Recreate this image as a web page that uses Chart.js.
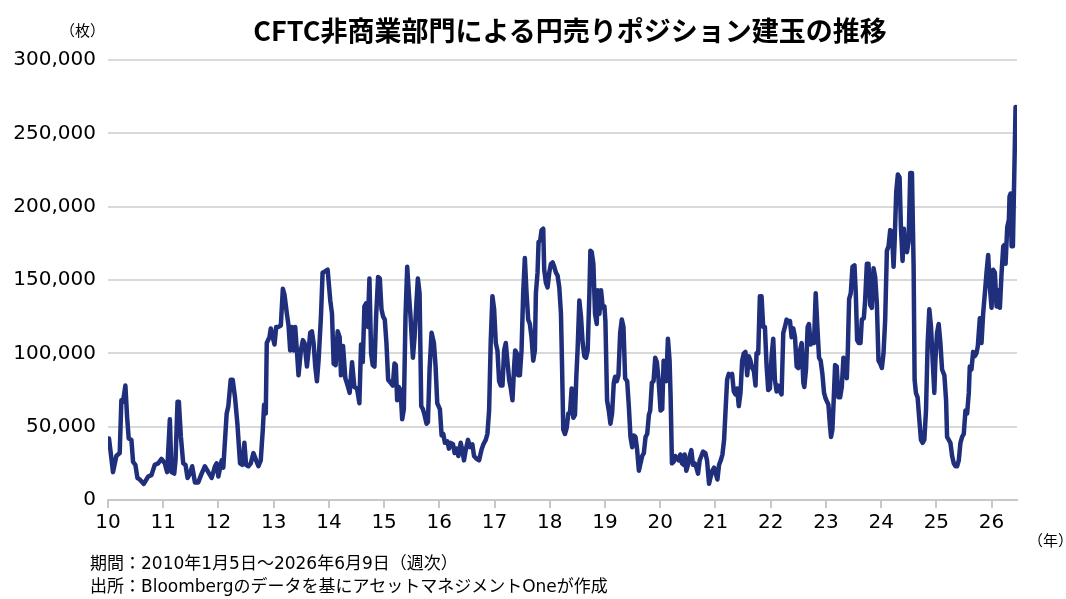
<!DOCTYPE html>
<html lang="ja">
<head>
<meta charset="utf-8">
<script src="https://cdn.jsdelivr.net/npm/chart.js@4.4.1/dist/chart.umd.min.js"></script>
<style>
  html, body { margin:0; padding:0; background:#fff; }
  body { width:1066px; height:599px; position:relative; overflow:hidden;
         font-family:"DejaVu Sans","Noto Sans CJK JP",sans-serif; color:#000; }
  #c { position:absolute; left:0; top:0; }
  .t { position:absolute; white-space:nowrap; }
  #title { left:0; width:1140px; top:10px; text-align:center; font-size:27px; font-weight:700;
           font-family:"Noto Sans CJK JP",sans-serif; }
  #unit  { left:60px; top:19px; font-size:15px; font-family:"Noto Sans CJK JP",sans-serif; }
  #yr    { left:1028px; top:529px; font-size:15px; font-family:"Noto Sans CJK JP",sans-serif; }
  #foot  { left:90px; top:552px; font-size:17px; line-height:23px; }
</style>
</head>
<body>
<canvas id="c" width="1066" height="599"></canvas>
<div class="t" id="title">CFTC非商業部門による円売りポジション建玉の推移</div>
<div class="t" id="unit">（枚）</div>
<div class="t" id="yr">（年）</div>
<div class="t" id="foot">期間：2010年1月5日～2026年6月9日（週次）<br>出所：Bloombergのデータを基にアセットマネジメントOneが作成</div>
<script>
/* 週次データ: 位置は年の小数、値は枚 */
const weekPos = [
  2010.018,2010.091,2010.151,2010.212,2010.242,2010.272,2010.315,2010.345,2010.375,2010.424,2010.454,2010.496,2010.533,2010.575,2010.648,2010.726,2010.787,2010.847,2010.908,2010.969,
  2011.029,2011.071,2011.120,2011.150,2011.199,2011.223,2011.259,2011.283,2011.320,2011.362,2011.404,2011.441,2011.483,2011.525,2011.574,2011.634,2011.695,2011.755,2011.816,2011.877,2011.937,2011.967,2011.998,
  2012.058,2012.088,2012.149,2012.179,2012.222,2012.258,2012.300,2012.343,2012.391,2012.433,2012.470,2012.500,2012.542,2012.585,2012.633,2012.682,2012.724,2012.766,2012.803,2012.827,2012.857,2012.875,2012.924,2012.948,2012.984,
  2013.015,2013.045,2013.087,2013.130,2013.166,2013.196,2013.239,2013.269,2013.299,2013.329,2013.360,2013.390,2013.420,2013.450,2013.493,2013.529,2013.559,2013.602,2013.632,2013.662,2013.692,2013.723,2013.753,2013.783,2013.813,2013.856,2013.886,2013.935,2013.977,
  2014.025,2014.056,2014.086,2014.122,2014.159,2014.195,2014.219,2014.256,2014.298,2014.340,2014.376,2014.419,2014.461,2014.510,2014.552,2014.582,2014.613,2014.643,2014.673,2014.704,2014.734,2014.764,2014.794,2014.825,2014.855,2014.891,2014.922,2014.952,2014.982,
  2015.012,2015.042,2015.073,2015.115,2015.157,2015.188,2015.212,2015.236,2015.266,2015.297,2015.327,2015.357,2015.387,2015.418,2015.448,2015.478,2015.521,2015.551,2015.587,2015.611,2015.642,2015.672,2015.702,2015.732,2015.768,2015.793,2015.823,2015.859,2015.902,2015.932,2015.962,
  2016.010,2016.041,2016.071,2016.101,2016.144,2016.174,2016.204,2016.247,2016.277,2016.313,2016.344,2016.386,2016.416,2016.446,2016.477,2016.519,2016.556,2016.598,2016.628,2016.677,2016.719,2016.761,2016.798,2016.840,2016.870,2016.901,2016.931,2016.961,2016.992,
  2017.022,2017.052,2017.082,2017.113,2017.143,2017.173,2017.203,2017.234,2017.264,2017.294,2017.324,2017.354,2017.373,2017.403,2017.427,2017.458,2017.488,2017.518,2017.548,2017.579,2017.609,2017.639,2017.669,2017.700,2017.730,2017.748,2017.778,2017.797,2017.827,2017.851,2017.881,2017.899,2017.930,2017.960,2017.990,
  2018.020,2018.051,2018.081,2018.111,2018.141,2018.172,2018.202,2018.220,2018.244,2018.274,2018.305,2018.335,2018.365,2018.395,2018.426,2018.456,2018.480,2018.504,2018.535,2018.565,2018.595,2018.626,2018.656,2018.686,2018.717,2018.735,2018.759,2018.789,2018.819,2018.850,2018.868,2018.898,2018.928,2018.959,2018.989,
  2019.007,2019.037,2019.068,2019.098,2019.128,2019.159,2019.183,2019.213,2019.243,2019.274,2019.304,2019.334,2019.364,2019.401,2019.431,2019.461,2019.492,2019.522,2019.552,2019.582,2019.613,2019.643,2019.673,2019.703,2019.734,2019.764,2019.794,2019.818,2019.849,2019.879,2019.909,2019.939,2019.970,
  2020.006,2020.036,2020.061,2020.091,2020.109,2020.139,2020.169,2020.188,2020.212,2020.242,2020.272,2020.303,2020.333,2020.363,2020.394,2020.424,2020.442,2020.472,2020.502,2020.533,2020.563,2020.593,2020.624,2020.654,2020.684,2020.714,2020.745,2020.775,2020.817,2020.847,2020.884,2020.914,2020.944,2020.975,
  2021.005,2021.035,2021.065,2021.096,2021.126,2021.156,2021.180,2021.211,2021.241,2021.271,2021.301,2021.332,2021.362,2021.392,2021.422,2021.453,2021.483,2021.513,2021.543,2021.574,2021.604,2021.634,2021.665,2021.695,2021.725,2021.743,2021.774,2021.804,2021.834,2021.864,2021.895,2021.925,2021.955,2021.985,
  2022.016,2022.046,2022.076,2022.107,2022.137,2022.167,2022.197,2022.228,2022.258,2022.288,2022.318,2022.349,2022.379,2022.409,2022.440,2022.470,2022.500,2022.530,2022.561,2022.591,2022.609,2022.639,2022.669,2022.693,2022.724,2022.754,2022.784,2022.815,2022.845,2022.875,2022.905,2022.936,2022.966,2022.996,
  2023.045,2023.075,2023.093,2023.117,2023.136,2023.166,2023.196,2023.226,2023.257,2023.287,2023.317,2023.347,2023.378,2023.396,2023.420,2023.450,2023.481,2023.517,2023.541,2023.565,2023.596,2023.626,2023.650,2023.686,2023.710,2023.741,2023.771,2023.801,2023.831,2023.862,2023.892,2023.922,2023.952,2023.983,
  2024.013,2024.043,2024.073,2024.104,2024.134,2024.164,2024.194,2024.225,2024.243,2024.273,2024.303,2024.334,2024.358,2024.388,2024.412,2024.437,2024.467,2024.497,2024.527,2024.558,2024.588,2024.606,2024.630,2024.660,2024.691,2024.721,2024.751,2024.782,2024.812,2024.842,2024.872,2024.903,2024.933,2024.963,2024.982,
  2025.012,2025.042,2025.073,2025.103,2025.145,2025.176,2025.194,2025.224,2025.254,2025.285,2025.315,2025.345,2025.375,2025.406,2025.436,2025.466,2025.496,2025.527,2025.557,2025.587,2025.605,2025.635,2025.666,2025.696,2025.726,2025.751,2025.787,2025.817,2025.847,2025.878,2025.908,2025.938,2025.969,2025.999,
  2026.029,2026.059,2026.090,2026.120,2026.150,2026.181,2026.211,2026.235,2026.253,2026.283,2026.313,2026.325,2026.344,2026.362,2026.386,2026.404,2026.434
];
const shortPos = [
  42000,19000,30000,32000,68000,67000,78000,57000,42000,41000,26000,24000,15000,14000,11000,16000,17000,24000,25000,28000,
  25000,19000,55000,19000,18000,27000,67000,67000,43000,25000,24000,15000,18000,23000,12000,12000,18000,23000,19000,15000,23000,25000,16000,
  27000,22000,59000,64000,82000,82000,70000,52000,25000,24000,39000,24000,23000,25000,32000,27000,23000,27000,48000,65000,59000,107000,111000,117000,111000,
  106000,118000,118000,119000,144000,140000,127000,119000,102000,118000,102000,118000,102000,85000,102000,109000,107000,91000,102000,114000,115000,107000,91000,81000,95000,125000,155000,156000,157000,
  136000,127000,93000,92000,115000,111000,85000,105000,83000,78000,73000,94000,77000,76000,66000,106000,94000,132000,134000,118000,151000,100000,92000,91000,125000,152000,151000,130000,125000,
  123000,107000,82000,80000,78000,93000,92000,68000,77000,75000,55000,62000,125000,159000,141000,125000,97000,111000,136000,151000,141000,64000,62000,58000,52000,53000,89000,114000,107000,91000,66000,
  62000,44000,45000,39000,40000,35000,39000,38000,32000,35000,30000,39000,34000,27000,34000,41000,36000,38000,30000,28000,27000,34000,38000,41000,45000,61000,109000,139000,130000,
  107000,102000,81000,78000,78000,102000,107000,94000,82000,76000,68000,91000,102000,100000,85000,85000,102000,141000,165000,141000,123000,120000,111000,95000,102000,141000,155000,176000,177000,184000,185000,157000,148000,145000,155000,
  161000,162000,159000,155000,153000,145000,127000,95000,48000,45000,49000,59000,59000,76000,56000,58000,84000,103000,136000,125000,107000,98000,97000,102000,141000,170000,169000,161000,127000,120000,143000,127000,143000,131000,132000,
  122000,68000,61000,52000,59000,80000,84000,81000,85000,114000,123000,118000,83000,81000,64000,43000,36000,44000,43000,34000,20000,25000,30000,32000,43000,45000,58000,61000,80000,81000,97000,94000,82000,
  61000,62000,95000,94000,81000,110000,95000,70000,25000,26000,30000,28000,27000,31000,25000,24000,31000,20000,24000,30000,34000,24000,25000,22000,18000,27000,30000,33000,32000,27000,11000,16000,20000,22000,
  18000,14000,24000,27000,31000,41000,59000,82000,86000,85000,86000,74000,72000,76000,64000,73000,95000,100000,101000,85000,98000,95000,90000,88000,78000,100000,100000,139000,139000,118000,118000,92000,75000,76000,
  98000,110000,82000,74000,78000,74000,72000,114000,118000,123000,122000,122000,111000,117000,111000,91000,90000,102000,107000,80000,77000,89000,118000,120000,106000,111000,107000,141000,118000,97000,95000,86000,73000,69000,
  65000,50000,43000,48000,64000,92000,91000,70000,70000,77000,97000,95000,83000,101000,137000,141000,159000,160000,141000,109000,107000,107000,123000,124000,136000,161000,161000,133000,131000,158000,152000,134000,95000,93000,
  90000,100000,123000,170000,173000,184000,183000,159000,175000,210000,222000,220000,186000,163000,185000,170000,169000,176000,223000,223000,159000,82000,73000,70000,55000,41000,39000,41000,61000,107000,130000,118000,95000,73000,95000,
  114000,120000,107000,89000,85000,68000,43000,41000,39000,30000,25000,23000,23000,27000,39000,43000,45000,61000,59000,73000,91000,89000,101000,98000,100000,105000,124000,107000,127000,141000,155000,167000,145000,131000,
  157000,155000,132000,143000,131000,155000,173000,174000,161000,186000,191000,207000,209000,173000,173000,209000,268000
];
const yearLabels = ['10','11','12','13','14','15','16','17','18','19','20','21','22','23','24','25','26'];
const yTicks = [0, 50000, 100000, 150000, 200000, 250000, 300000];

const FONT = '"DejaVu Sans","Noto Sans CJK JP",sans-serif';
const nf = new Intl.NumberFormat('en-US');

const points = weekPos.map((x, i) => ({ x, y: shortPos[i] }));

new Chart(document.getElementById('c'), {
  type: 'line',
  data: { datasets: [{
    data: points,
    borderColor: '#1f2f7c', borderWidth: 4.5, borderJoinStyle: 'round', borderCapStyle: 'round',
    pointRadius: 0, tension: 0, fill: false
  }]},
  options: {
    responsive: false, animation: false,
    layout: { padding: { top: 60, right: 49, bottom: 0, left: 0 } },
    plugins: { legend: { display: false }, tooltip: { enabled: false } },
    scales: {
      x: {
        type: 'linear', min: 2010, max: 2026.46,
        afterFit: s => { s.height = 99; },
        afterBuildTicks: s => { s.ticks = yearLabels.map((_, i) => ({ value: 2010 + i })); },
        ticks: { autoSkip: false, maxRotation: 0, padding: 3, color: '#000',
                 font: { family: FONT, size: 20 },
                 callback: v => yearLabels[Math.round(v) - 2010] },
        grid: { drawOnChartArea: false, drawTicks: true, tickLength: 8, color: '#c8c8c8', lineWidth: 2 },
        border: { color: '#c8c8c8', width: 2 }
      },
      y: {
        min: 0, max: 300000,
        afterFit: s => { s.width = 108; },
        afterBuildTicks: s => { s.ticks = yTicks.map(v => ({ value: v })); },
        ticks: { padding: 12, color: '#000', font: { family: FONT, size: 20 },
                 callback: v => nf.format(v) },
        grid: { color: '#d9d9d9', lineWidth: 2, drawTicks: false },
        border: { display: false }
      }
    }
  }
});
</script>
</body>
</html>
